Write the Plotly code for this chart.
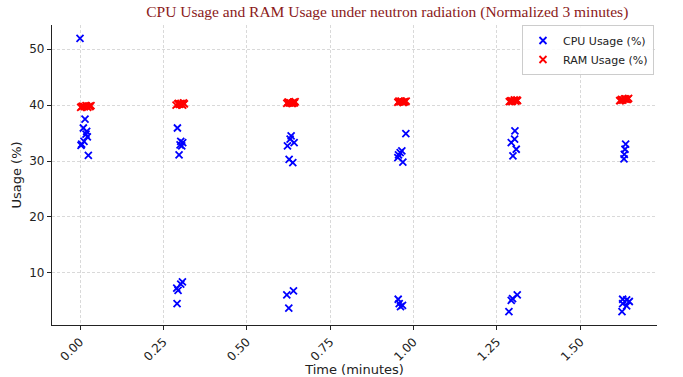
import plotly.graph_objects as go

# CPU usage samples (time in minutes, usage %)
cpu_time = [0.000, 0.015, 0.010, 0.020, 0.018, 0.022, 0.012, 0.005, 0.003, 0.025,
            0.292, 0.302, 0.308, 0.305, 0.300, 0.297,
            0.307, 0.302, 0.290, 0.294, 0.291,
            0.633, 0.630, 0.642, 0.622, 0.627, 0.638,
            0.640, 0.620, 0.626,
            0.977, 0.965, 0.960, 0.955, 0.953, 0.968,
            0.954, 0.957, 0.967, 0.961,
            1.304, 1.303, 1.293, 1.308, 1.298,
            1.311, 1.293, 1.297, 1.286,
            1.636, 1.634, 1.632, 1.631,
            1.627, 1.639, 1.647, 1.627, 1.639, 1.625]
cpu_usage = [51.9, 37.5, 35.9, 35.3, 34.8, 34.3, 33.5, 33.0, 32.8, 31.0,
             35.9, 33.5, 33.3, 32.7, 32.9, 31.1,
             8.4, 8.0, 7.3, 6.9, 4.5,
             34.5, 33.9, 33.3, 32.7, 30.3, 29.7,
             6.8, 6.1, 3.7,
             34.9, 31.8, 31.5, 31.1, 30.6, 29.8,
             5.3, 4.5, 4.2, 4.0,
             35.4, 33.9, 33.3, 32.1, 30.9,
             6.1, 5.1, 5.4, 3.1,
             33.0, 32.1, 31.2, 30.4,
             5.3, 5.2, 4.9, 4.5, 4.1, 3.1]

# RAM usage samples
ram_time = [0.002, 0.008, 0.013, 0.018, 0.023, 0.028, 0.033, 0.005, 0.020, 0.030,
            0.288, 0.293, 0.298, 0.303, 0.308, 0.313, 0.295, 0.305, 0.300, 0.310,
            0.620, 0.625, 0.630, 0.635, 0.640, 0.645, 0.628, 0.638, 0.623, 0.643,
            0.953, 0.958, 0.963, 0.968, 0.973, 0.978, 0.960, 0.970, 0.956, 0.975,
            1.287, 1.292, 1.297, 1.302, 1.307, 1.312, 1.295, 1.305, 1.290, 1.310,
            1.618, 1.623, 1.628, 1.633, 1.638, 1.645, 1.625, 1.635, 1.620, 1.642]
ram_usage = [39.6, 39.8, 39.7, 39.9, 39.6, 39.8, 39.9, 39.7, 39.8, 39.7,
             40.0, 40.2, 40.1, 40.3, 40.0, 40.2, 40.3, 40.1, 40.2, 40.4,
             40.3, 40.5, 40.4, 40.3, 40.5, 40.6, 40.4, 40.3, 40.5, 40.4,
             40.5, 40.6, 40.7, 40.5, 40.6, 40.7, 40.6, 40.5, 40.7, 40.6,
             40.6, 40.8, 40.7, 40.9, 40.7, 40.8, 40.6, 40.8, 40.7, 40.9,
             40.8, 41.0, 40.9, 41.1, 41.0, 41.2, 40.9, 41.1, 40.8, 41.0]

x_ticks = [0.0, 0.25, 0.5, 0.75, 1.0, 1.25, 1.5]
x_tick_labels = ["0.00", "0.25", "0.50", "0.75", "1.00", "1.25", "1.50"]
y_ticks = [10, 20, 30, 40, 50]

fig = go.Figure()
fig.add_trace(go.Scatter(
    x=cpu_time, y=cpu_usage, mode="markers", name="CPU Usage (%)",
    marker=dict(symbol="x-thin-open", size=7, color="blue", line=dict(width=1.8, color="blue")),
))
fig.add_trace(go.Scatter(
    x=ram_time, y=ram_usage, mode="markers", name="RAM Usage (%)",
    marker=dict(symbol="x-thin-open", size=7, color="red", line=dict(width=1.8, color="red")),
))

axis_common = dict(
    showline=True, linecolor="#222", linewidth=1.2, mirror=False,
    ticks="outside", ticklen=4, tickcolor="#222",
    showgrid=True, gridcolor="#d9d9d9", griddash="3px,2px", gridwidth=0.7,
    zeroline=False, tickfont=dict(family="DejaVu Sans", size=12, color="#222"),
)

fig.update_layout(
    width=683, height=377,
    paper_bgcolor="white", plot_bgcolor="white",
    margin=dict(l=52, r=26, t=25, b=52),
    title=dict(
        text="CPU Usage and RAM Usage under neutron radiation (Normalized 3 minutes)",
        font=dict(family="Liberation Serif", size=15.5, color="#8b1a1a"),
        x=0.567, xanchor="center", y=0.985, yanchor="top",
    ),
    xaxis=dict(
        **axis_common, range=[-0.084, 1.73], tickvals=x_ticks, ticktext=x_tick_labels,
        tickangle=-45, automargin=False,
        title=dict(text="Time (minutes)", font=dict(family="DejaVu Sans", size=13, color="#222"), standoff=2),
    ),
    yaxis=dict(
        **axis_common, range=[0.7, 54.3], tickvals=y_ticks, automargin=False,
        title=dict(text="Usage (%)", font=dict(family="DejaVu Sans", size=13, color="#222"), standoff=4),
    ),
    legend=dict(
        x=0.995, y=1.0, xanchor="right", yanchor="top",
        bgcolor="rgba(255,255,255,0.85)", bordercolor="#cccccc", borderwidth=1,
        font=dict(family="DejaVu Sans", size=11, color="#222"),
        tracegroupgap=0, itemsizing="trace",
    ),
    showlegend=True,
)

fig.write_html(
    "out.html",
    config={"displayModeBar": False},
    post_script="document.body.style.margin='0';document.body.style.overflow='hidden';",
)
